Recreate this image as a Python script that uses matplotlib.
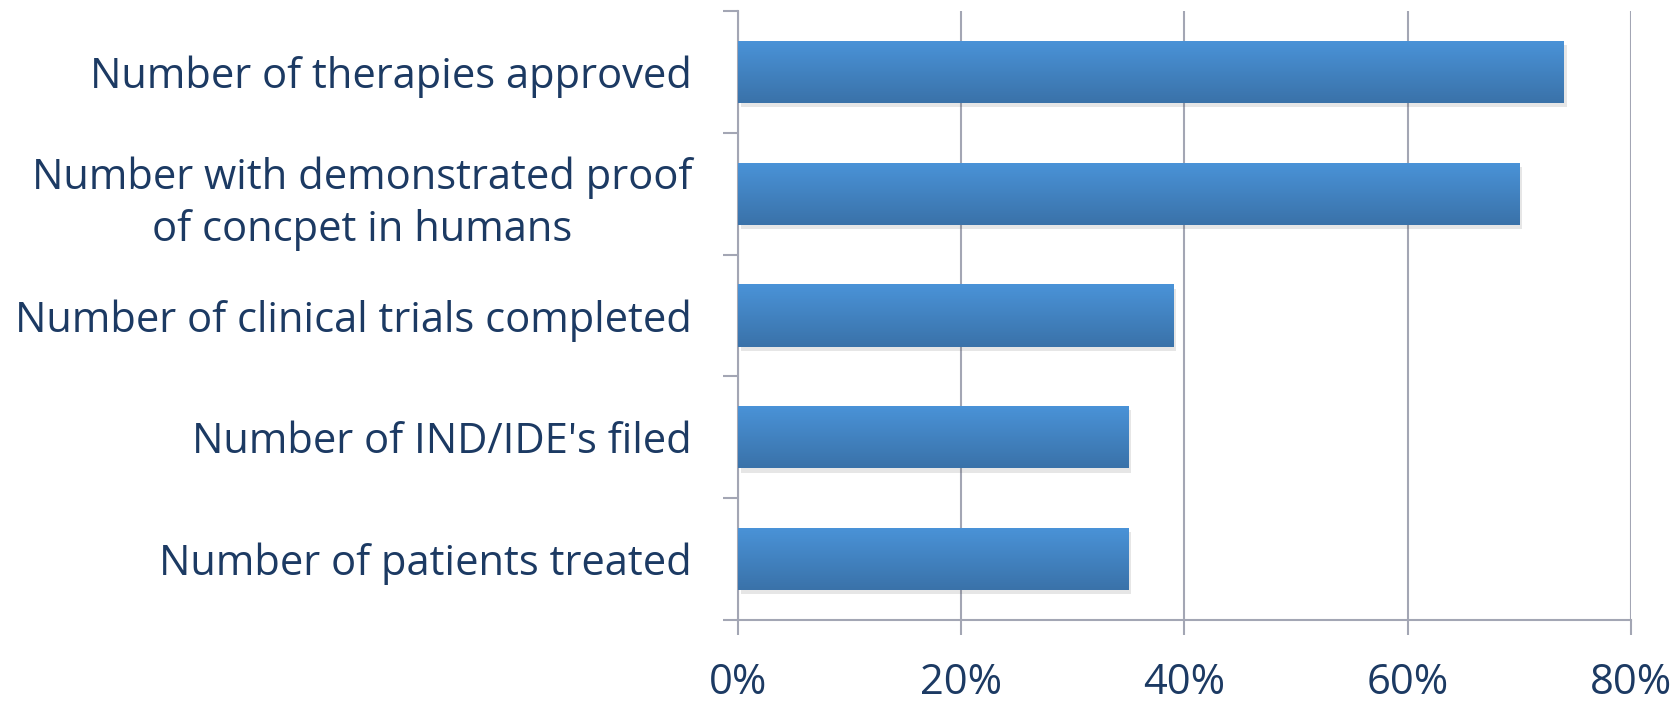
import numpy as np
import matplotlib
matplotlib.use("Agg")
import matplotlib.pyplot as plt
import matplotlib.patheffects as pe
from matplotlib.colors import LinearSegmentedColormap

categories = ["Number of therapies approved",
              "Number with demonstrated proof\nof concpet in humans",
              "Number of clinical trials completed",
              "Number of IND/IDE's filed",
              "Number of patients treated"]
values = [74, 70, 39, 35, 35]
xticks = [0, 20, 40, 60, 80]
xticklabels = ["0%", "20%", "40%", "60%", "80%"]

text_color = "#1c3a63"
grid_color = "#a3a6b4"
plt.rcParams['font.family'] = ['Open Sans', 'DejaVu Sans']

fig = plt.figure(figsize=(16.81, 7.01), dpi=100)
ax = fig.add_axes([0.4389, 0.1156, 0.9701 - 0.4389, 0.9843 - 0.1156])

y = np.arange(len(categories))
bars = ax.barh(y, values, height=0.51, color="#4389cc", zorder=2,
               path_effects=[pe.SimplePatchShadow(offset=(2, -3), alpha=0.13, shadow_rgbFace="#444444"),
                             pe.Normal()])

# vertical gradient on each bar
cmap = LinearSegmentedColormap.from_list("bar", ["#4a93d8", "#3a72a9"])
grad = np.linspace(0, 1, 100).reshape(-1, 1)
for b in bars:
    x0, y0, w, h = b.get_x(), b.get_y(), b.get_width(), b.get_height()
    im = ax.imshow(grad, cmap=cmap, aspect="auto", extent=(x0, x0 + w, y0 + h, y0),
                   zorder=3, interpolation="bicubic")
    im.set_clip_path(b)

ax.set_xlim(0, 80)
ax.set_ylim(len(categories) - 0.5, -0.5)

ax.set_xticks(xticks)
ax.set_xticklabels(xticklabels)
ax.set_yticks(y)
ax.set_yticklabels(categories, multialignment="center", linespacing=1.3)
ax.set_yticks(np.arange(-0.5, len(categories)), minor=True)

ax.tick_params(axis="y", which="major", length=0, pad=33, labelsize=30, labelcolor=text_color)
ax.tick_params(axis="y", which="minor", length=11, width=1.5, color=grid_color, direction="out")
ax.tick_params(axis="x", length=11, width=1.5, color=grid_color, pad=19, labelsize=30,
               labelcolor=text_color)

ax.grid(axis="x", color=grid_color, linewidth=1.5, zorder=1)
ax.set_axisbelow(True)
for s in ["top", "right"]:
    ax.spines[s].set_visible(False)
for s in ["left", "bottom"]:
    ax.spines[s].set_color(grid_color)
    ax.spines[s].set_linewidth(1.5)

fig.savefig("out.png", dpi=100)
